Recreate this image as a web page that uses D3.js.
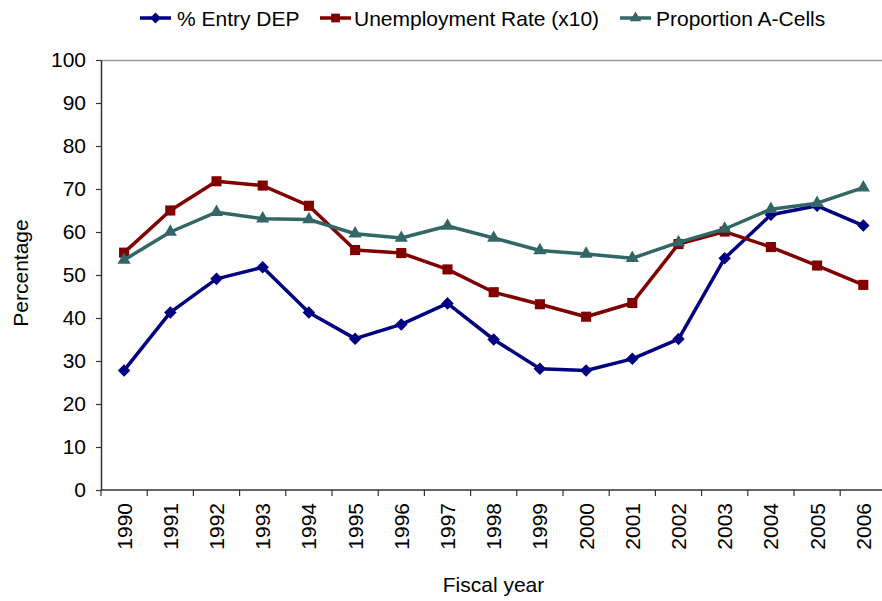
<!DOCTYPE html>
<html>
<head>
<meta charset="utf-8">
<script src="https://cdn.jsdelivr.net/npm/d3@7"></script>
<style>
  html, body { margin: 0; padding: 0; background: #fff; }
  svg text { font-family: "Liberation Sans", Arial, sans-serif; fill: #000; }
</style>
</head>
<body>
<svg id="chart" width="882" height="601"></svg>
<script>
// Fiscal years on the x axis
const years = ["1990","1991","1992","1993","1994","1995","1996","1997","1998",
               "1999","2000","2001","2002","2003","2004","2005","2006"];

// Series values (percent)
const entryDEP = [27.8, 41.3, 49.1, 51.8, 41.3, 35.2, 38.5, 43.4, 35.0,
                  28.2, 27.8, 30.5, 35.1, 53.9, 64.0, 66.1, 61.5];
const unemploymentX10 = [55.2, 65.0, 71.8, 70.8, 66.1, 55.8, 55.1, 51.3, 46.0,
                         43.2, 40.3, 43.5, 57.2, 60.1, 56.5, 52.2, 47.7];
const propACells = [53.5, 60.0, 64.6, 63.1, 62.9, 59.6, 58.6, 61.4, 58.6,
                    55.7, 54.9, 53.9, 57.6, 60.7, 65.3, 66.7, 70.3];

const yTicks = [0, 10, 20, 30, 40, 50, 60, 70, 80, 90, 100];

const series = [
  { name: "% Entry DEP", values: entryDEP, color: "#000080", symbol: d3.symbolDiamond2, size: 100 },
  { name: "Unemployment Rate (x10)", values: unemploymentX10, color: "#800000", symbol: d3.symbolSquare2, size: 130 },
  { name: "Proportion A-Cells", values: propACells, color: "#336666", symbol: d3.symbolTriangle2, size: 125 }
];

const FONT = "21px";
const svg = d3.select("#chart");
const plot = { left: 101, right: 886.4, top: 60, bottom: 490 };

const x = d3.scaleBand().domain(years).range([plot.left, plot.right]);
const y = d3.scaleLinear().domain([0, 100]).range([plot.bottom, plot.top]);
const cx = d => x(d) + x.bandwidth() / 2;

// top frame line
svg.append("line")
  .attr("x1", plot.left).attr("x2", plot.right)
  .attr("y1", plot.top + 0.5).attr("y2", plot.top + 0.5)
  .attr("stroke", "#999").attr("stroke-width", 1.5);

// y axis
const yAxis = svg.append("g")
  .attr("transform", `translate(${plot.left},0)`)
  .call(d3.axisLeft(y).tickValues(yTicks).tickSize(5).tickPadding(10).tickSizeOuter(0));
yAxis.select(".domain").attr("stroke", "#333").attr("stroke-width", 1.5);
yAxis.selectAll(".tick line").attr("stroke", "#333").attr("stroke-width", 1.2);
yAxis.selectAll(".tick text")
  .attr("font-family", null)
  .attr("font-size", null)
  .style("font-size", FONT).attr("fill", "#000");

// x axis: ticks sit on category boundaries
const xAxis = svg.append("g")
  .attr("transform", `translate(0,${plot.bottom})`);
xAxis.append("line")
  .attr("x1", plot.left).attr("x2", plot.right)
  .attr("y1", 0).attr("y2", 0)
  .attr("stroke", "#333").attr("stroke-width", 1.5);
xAxis.selectAll("line.boundary")
  .data(years)
  .join("line")
  .attr("class", "boundary")
  .attr("x1", d => x(d)).attr("x2", d => x(d))
  .attr("y1", 0).attr("y2", 6)
  .attr("stroke", "#333").attr("stroke-width", 1.2);
xAxis.selectAll("text.year")
  .data(years)
  .join("text")
  .attr("class", "year")
  .attr("transform", d => `translate(${cx(d) + 7.5},13) rotate(-90)`)
  .attr("text-anchor", "end")
  .style("font-size", FONT)
  .text(d => d);

// axis titles
svg.append("text")
  .attr("transform", `translate(28,273) rotate(-90)`)
  .attr("text-anchor", "middle")
  .style("font-size", FONT)
  .text("Percentage");
svg.append("text")
  .attr("x", 493.5).attr("y", 592)
  .attr("text-anchor", "middle")
  .style("font-size", FONT)
  .text("Fiscal year");

// lines and markers
const line = d3.line()
  .x((d, i) => cx(years[i]))
  .y(d => y(d));

series.forEach(s => {
  const g = svg.append("g");
  g.append("path")
    .datum(s.values)
    .attr("d", line)
    .attr("fill", "none")
    .attr("stroke", s.color)
    .attr("stroke-width", 3.5)
    .attr("stroke-linejoin", "round");
  g.selectAll("path.marker")
    .data(s.values)
    .join("path")
    .attr("class", "marker")
    .attr("transform", (d, i) => `translate(${cx(years[i])},${y(d)})`)
    .attr("d", d3.symbol().type(s.symbol).size(s.size))
    .attr("fill", s.color);
});

// legend
const legendPos = [
  { lx: 140, tx: 177 },
  { lx: 320, tx: 354 },
  { lx: 620, tx: 656 }
];
const legend = svg.append("g");
series.forEach((s, i) => {
  const p = legendPos[i];
  const g = legend.append("g");
  g.append("line")
    .attr("x1", p.lx).attr("x2", p.lx + 31)
    .attr("y1", 18).attr("y2", 18)
    .attr("stroke", s.color).attr("stroke-width", 3.5);
  g.append("path")
    .attr("transform", `translate(${p.lx + 15.5},18)`)
    .attr("d", d3.symbol().type(s.symbol).size(s.size * 0.75))
    .attr("fill", s.color);
  g.append("text")
    .attr("x", p.tx).attr("y", 26)
    .style("font-size", FONT)
    .text(s.name);
});
</script>
</body>
</html>
